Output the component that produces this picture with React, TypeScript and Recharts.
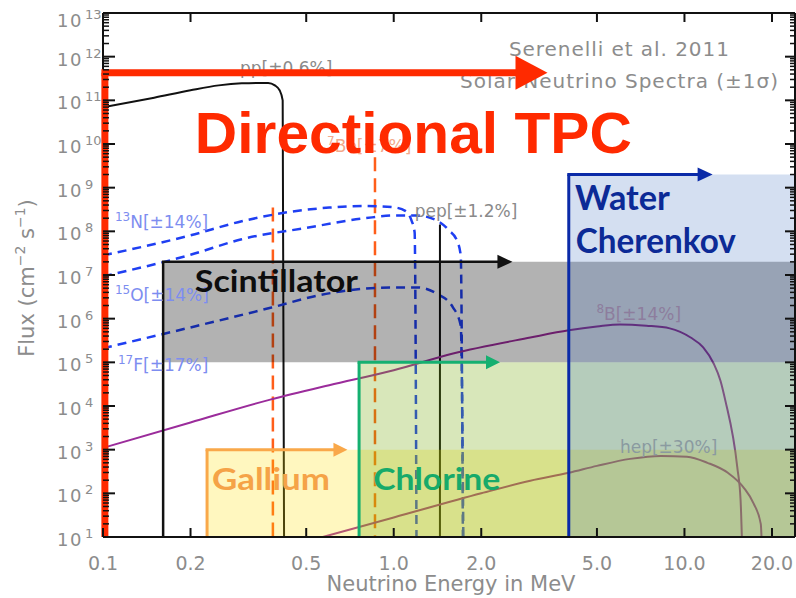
import React from "react";
import {
  LineChart,
  Line,
  XAxis,
  YAxis,
  ReferenceArea,
  ReferenceLine,
  ReferenceDot,
} from "recharts";

const CHART_W = 796;
const CHART_H = 598;

const energyDomain: [number, number] = [0.1, 24];
const fluxDomain: [number, number] = [10, 1e13];

const energyTicks = [0.1, 0.2, 0.5, 1, 2, 5, 10, 20];
const energyTickLabels = ["0.1", "0.2", "0.5", "1.0", "2.0", "5.0", "10.0", "20.0"];
const fluxExponents = [1, 2, 3, 4, 5, 6, 7, 8, 9, 10, 11, 12, 13];
const fluxMantissas = [1, 2, 3, 4, 5, 6, 7, 8, 9];
const fluxTicks = fluxExponents.flatMap((n) =>
  n === 13 ? [10 ** n] : fluxMantissas.map((m) => m * 10 ** n)
);

// spectra, flux in cm^-2 s^-1 (per MeV for continua)
const ppEnergy = [0.1, 0.15, 0.2, 0.25, 0.3, 0.35, 0.37, 0.39, 0.405, 0.415, 0.42];
const ppFlux = [6.9e10, 1.15e11, 1.7e11, 2.2e11, 2.45e11, 2.5e11, 2.5e11, 2.2e11, 1.7e11, 1.0e11, 1];

const n13Energy = [0.1, 0.2, 0.3, 0.476, 0.6, 0.8, 1.0, 1.1, 1.15, 1.18, 1.199];
const n13Flux = [2.8e7, 8.1e7, 1.7e8, 3.0e8, 3.5e8, 3.8e8, 3.55e8, 2.9e8, 1.8e8, 9.5e7, 1];

const o15Energy = [0.1, 0.2, 0.3, 0.5, 0.8, 1.0, 1.2, 1.4, 1.55, 1.65, 1.7, 1.732];
const o15Flux = [9.3e6, 2.9e7, 6.6e7, 1.2e8, 2.0e8, 2.3e8, 2.3e8, 1.8e8, 1.05e8, 6.2e7, 2.8e7, 1];

const f17Energy = [0.1, 0.2, 0.38, 0.55, 0.8, 1.0, 1.2, 1.4, 1.6, 1.7, 1.74];
const f17Flux = [2.1e5, 6.3e5, 1.8e6, 3.4e6, 4.9e6, 5.2e6, 5.2e6, 3.8e6, 1.8e6, 7e5, 1];

const b8Energy = [0.1, 0.2, 0.376, 0.6, 1.0, 1.6, 2.95, 4, 5, 6, 7.4, 8.9, 10.5, 11.6, 12.6, 13.3, 13.8, 15.2, 15.6, 15.9];
const b8Flux = [1.1e3, 4.2e3, 1.4e4, 3.0e4, 6.6e4, 1.6e5, 3.7e5, 5.4e5, 6.6e5, 7.4e5, 6.9e5, 6.0e5, 3.7e5, 2.2e5, 9.4e4, 3.8e4, 1.4e4, 390, 68, 1];

const hepEnergy = [0.57, 1, 2, 2.95, 4, 5, 6.5, 8.3, 10.2, 12, 14.1, 16, 17.3, 18.3, 18.6];
const hepFlux = [10, 28, 100, 195, 295, 425, 615, 720, 690, 500, 295, 134, 58, 20, 1];

// monoenergetic lines
const be7LowEnergy = [0.384, 0.384];
const be7LowFlux = [3.5e8, 1];
const be7HighEnergy = [0.862, 0.862];
const be7HighFlux = [5e9, 1];
const pepEnergy = [1.442, 1.442];
const pepFlux = [1.44e8, 1];

// detector thresholds (MeV) and flux band covered
const detectorNames = ["Gallium", "Chlorine", "Scintillator", "Water Cherenkov", "Directional TPC"];
const detectorThreshold = [0.228, 0.76, 0.161, 4.0, 0.1015];
const detectorCeiling = [1e3, 1e5, 2e7, 2e9, 4.3e11];
const detectorFloor = [10, 10, 1e5, 10, 10];
const detectorArrowEnd = [0.693, 2.32, 2.56, 12.5, 3.38];

type Pt = { e: number; f: number };
const toPoints = (energy: number[], flux: number[]): Pt[] =>
  energy.map((e, i) => ({ e, f: flux[i] }));

const BLUE = "#1f3ff2";
const ORANGE = "#ff5e1a";
const PURPLE = "#9b2c9b";
const INK = "#111111";

const spectra = [
  { key: "pp", data: toPoints(ppEnergy, ppFlux), color: INK, width: 2, dash: undefined, curve: "monotone" },
  { key: "be7a", data: toPoints(be7LowEnergy, be7LowFlux), color: ORANGE, width: 2.5, dash: "14 7", curve: "linear" },
  { key: "be7b", data: toPoints(be7HighEnergy, be7HighFlux), color: ORANGE, width: 2.5, dash: "14 7", curve: "linear" },
  { key: "n13", data: toPoints(n13Energy, n13Flux), color: BLUE, width: 2.5, dash: "9 6", curve: "monotone" },
  { key: "o15", data: toPoints(o15Energy, o15Flux), color: BLUE, width: 2.5, dash: "9 6", curve: "monotone" },
  { key: "f17", data: toPoints(f17Energy, f17Flux), color: BLUE, width: 2.5, dash: "9 6", curve: "monotone" },
  { key: "pep", data: toPoints(pepEnergy, pepFlux), color: INK, width: 2, dash: undefined, curve: "linear" },
  { key: "b8", data: toPoints(b8Energy, b8Flux), color: PURPLE, width: 2, dash: undefined, curve: "monotone" },
  { key: "hep", data: toPoints(hepEnergy, hepFlux), color: PURPLE, width: 2, dash: undefined, curve: "monotone" },
];

// detector box styles, same order as detectorNames
const boxFill = ["#ffe000", "#70a800", "#000000", "#3b6fc0", "none"];
const boxOpacity = [0.25, 0.27, 0.3, 0.22, 0];
const boxStroke = ["#f9a84a", "#15b070", INK, "#0a2aa8", "#ff2a00"];
const boxStrokeWidth = [3, 3, 2.5, 3, 7];
const boxHead = [[14, 7], [14, 7], [15, 7], [15, 7], [32, 17]];

// curve annotations: text, superscript prefix, anchor (MeV, flux)
const notes = [
  { text: "pp[±0.6%]", sup: "", e: 0.296, f: 4e11, color: "#8a8a8a" },
  { text: "Be[±7%]", sup: "7", e: 0.59, f: 6.5e9, color: "#f3a98c" },
  { text: "N[±14%]", sup: "13", e: 0.1099, f: 1.17e8, color: "#7d8df0" },
  { text: "O[±14%]", sup: "15", e: 0.1099, f: 2.6e6, color: "#7d8df0" },
  { text: "F[±17%]", sup: "17", e: 0.1126, f: 6.5e4, color: "#7d8df0" },
  { text: "pep[±1.2%]", sup: "", e: 1.18, f: 2.1e8, color: "#8a8a8a" },
  { text: "B[±14%]", sup: "8", e: 4.98, f: 9.1e5, color: "#8d7d9d" },
  { text: "hep[±30%]", sup: "", e: 6.0, f: 8.5e2, color: "#8a9aa0" },
];

const credits = [
  { text: "Serenelli et al. 2011", e: 2.49, f: 1.03e12, length: 220 },
  { text: "Solar Neutrino Spectra (±1σ)", e: 1.69, f: 1.9e11, length: 318 },
];

// detector captions
const captions = [
  { text: "Gallium", e: 0.237, f: 120, color: "#f5a347", size: 31, length: 118 },
  { text: "Chlorine", e: 0.85, f: 120, color: "#17aa6a", size: 31, length: 127 },
  { text: "Scintillator", e: 0.207, f: 4e6, color: "#0d0d0d", size: 30, length: 163 },
  { text: "Water", e: 4.2, f: 3e8, color: "#0c2a96", size: 34, length: 95 },
  { text: "Cherenkov", e: 4.23, f: 3.2e7, color: "#0c2a96", size: 34, length: 160 },
];

const GRAY = "#8c8c8c";
const SANS = "DejaVu Sans";

function arrowShape(color: string, width: number, head: number, half: number) {
  return (p: any) => {
    const { x1, y1, x2, y2 } = p;
    return (
      <g>
        <line x1={x1 - width / 2} y1={y1} x2={x2 - head + 1} y2={y2} stroke={color} strokeWidth={width} />
        <polygon
          points={`${x2},${y2} ${x2 - head},${y2 - half} ${x2 - head},${y2 + half}`}
          fill={color}
        />
      </g>
    );
  };
}

function noteShape(text: string, sup: string, color: string) {
  return (p: any) => (
    <text x={p.cx} y={p.cy} fill={color} fontSize={17} fontFamily={SANS}>
      {sup ? (
        <>
          <tspan fontSize={12} dy={-7}>{sup}</tspan>
          <tspan dy={7}>{text}</tspan>
        </>
      ) : (
        text
      )}
    </text>
  );
}

function creditShape(text: string, length: number) {
  return (p: any) => (
    <text x={p.cx} y={p.cy} fill={GRAY} fontSize={20} fontFamily={SANS} textLength={length} lengthAdjust="spacing">
      {text}
    </text>
  );
}

function captionShape(text: string, color: string, size: number, length: number, family: string) {
  return (p: any) => (
    <text
      x={p.cx}
      y={p.cy}
      fill={color}
      fontSize={size}
      fontWeight={700}
      fontFamily={family}
      textLength={length}
      lengthAdjust="spacingAndGlyphs"
    >
      {text}
    </text>
  );
}

function EnergyTick({ x, y, payload }: any) {
  const i = energyTicks.indexOf(payload.value);
  return (
    <g>
      <line x1={x} y1={y} x2={x} y2={y - 9} stroke={INK} strokeWidth={2} />
      <text x={x} y={y + 33} textAnchor="middle" fill={GRAY} fontSize={19} fontFamily={SANS}>
        {energyTickLabels[i]}
      </text>
    </g>
  );
}

function TopTick({ x, y }: any) {
  return <line x1={x} y1={y} x2={x} y2={y + 9} stroke={INK} strokeWidth={2} />;
}

const isDecade = (v: number) => Math.abs(Math.log10(v) - Math.round(Math.log10(v))) < 1e-6;

function FluxTick({ x, y, payload }: any) {
  const v = payload.value;
  const major = isDecade(v);
  const p = Math.round(Math.log10(v));
  const base = p === 13 ? y + 14 : y + 9;
  return (
    <g>
      <line x1={x} y1={y} x2={x + (major ? 12 : 6)} y2={y} stroke={INK} strokeWidth={major ? 2 : 1.5} />
      {major && (
        <>
          <text x={x - 20} y={base} textAnchor="end" fill={GRAY} fontSize={18} fontFamily={SANS} letterSpacing={1.5}>
            10
          </text>
          <text x={x - 18} y={base - 8} fill={GRAY} fontSize={13} fontFamily={SANS}>
            {p}
          </text>
        </>
      )}
    </g>
  );
}

function RightTick({ x, y, payload }: any) {
  const major = isDecade(payload.value);
  return <line x1={x} y1={y} x2={x - (major ? 10 : 5)} y2={y} stroke={INK} strokeWidth={major ? 2 : 1.5} />;
}

function FluxTitle() {
  return (
    <text
      transform="translate(34,278) rotate(-90)"
      textAnchor="middle"
      fill={GRAY}
      fontSize={21}
      fontFamily={SANS}
    >
      Flux (cm<tspan dy={-9} fontSize={14}>−2</tspan>
      <tspan dy={9}> s</tspan>
      <tspan dy={-9} fontSize={14}>−1</tspan>
      <tspan dy={9}>)</tspan>
    </text>
  );
}

function EnergyTitle() {
  return (
    <text x={451} y={591} textAnchor="middle" fill={GRAY} fontSize={21} fontFamily={SANS}>
      Neutrino Energy in MeV
    </text>
  );
}

export default function App() {
  const boxes = detectorNames.map((name, i) => ({
    name,
    thr: detectorThreshold[i],
    top: detectorCeiling[i],
    floor: detectorFloor[i],
    end: detectorArrowEnd[i],
    fill: boxFill[i],
    opacity: boxOpacity[i],
    stroke: boxStroke[i],
    width: boxStrokeWidth[i],
    head: boxHead[i],
  }));
  const tpc = boxes[boxes.length - 1];
  const framed = boxes.slice(0, boxes.length - 1);

  return (
    <div style={{ position: "absolute", left: 0, top: 0, background: "#fff" }}>
      <LineChart width={CHART_W} height={CHART_H} margin={{ top: 0, right: 0, bottom: 0, left: 0 }}>
        {spectra.map((s) => (
          <Line
            key={s.key}
            data={s.data}
            dataKey="f"
            type={s.curve as any}
            stroke={s.color}
            strokeWidth={s.width}
            strokeDasharray={s.dash}
            dot={false}
            activeDot={false}
            isAnimationActive={false}
            zIndex={400}
          />
        ))}

        {framed.map((b) => (
          <ReferenceArea
            key={`area-${b.name}`}
            x1={b.thr}
            x2={energyDomain[1]}
            y1={b.floor}
            y2={b.top}
            fill={b.fill}
            fillOpacity={b.opacity}
            stroke="none"
            zIndex={450}
          />
        ))}

        {framed.map((b) => (
          <ReferenceLine
            key={`edge-${b.name}`}
            segment={[
              { x: b.thr, y: fluxDomain[0] },
              { x: b.thr, y: b.top },
            ]}
            stroke={b.stroke}
            strokeWidth={b.width}
            zIndex={460}
          />
        ))}
        {framed.map((b) => (
          <ReferenceLine
            key={`arrow-${b.name}`}
            segment={[
              { x: b.thr, y: b.top },
              { x: b.end, y: b.top },
            ]}
            shape={arrowShape(b.stroke, b.width, b.head[0], b.head[1])}
            zIndex={460}
          />
        ))}

        {notes.map((n) => (
          <ReferenceDot
            key={`note-${n.text}-${n.sup}`}
            x={n.e}
            y={n.f}
            r={0}
            shape={noteShape(n.text, n.sup, n.color)}
            zIndex={470}
          />
        ))}
        {credits.map((c) => (
          <ReferenceDot key={c.text} x={c.e} y={c.f} r={0} shape={creditShape(c.text, c.length)} zIndex={470} />
        ))}
        {captions.map((c) => (
          <ReferenceDot
            key={c.text}
            x={c.e}
            y={c.f}
            r={0}
            shape={captionShape(c.text, c.color, c.size, c.length, "Lato")}
            zIndex={475}
          />
        ))}

        <XAxis
          dataKey="e"
          type="number"
          scale="log"
          domain={energyDomain}
          allowDataOverflow
          ticks={energyTicks}
          interval={0}
          height={61}
          tickSize={0}
          tickMargin={0}
          tickLine={false}
          axisLine={{ stroke: INK, strokeWidth: 2 }}
          tick={<EnergyTick />}
          label={<EnergyTitle />}
        />
        <XAxis
          xAxisId="top"
          orientation="top"
          dataKey="e"
          type="number"
          scale="log"
          domain={energyDomain}
          allowDataOverflow
          ticks={energyTicks}
          interval={0}
          height={13}
          tickSize={0}
          tickMargin={0}
          tickLine={false}
          axisLine={{ stroke: INK, strokeWidth: 2 }}
          tick={<TopTick />}
        />
        <YAxis
          type="number"
          scale="log"
          domain={fluxDomain}
          allowDataOverflow
          ticks={fluxTicks}
          interval={0}
          width={103}
          tickSize={0}
          tickMargin={0}
          tickLine={false}
          axisLine={{ stroke: INK, strokeWidth: 2 }}
          tick={<FluxTick />}
          label={<FluxTitle />}
        />
        <YAxis
          yAxisId="right"
          orientation="right"
          type="number"
          scale="log"
          domain={fluxDomain}
          allowDataOverflow
          ticks={fluxTicks}
          interval={0}
          width={1}
          tickSize={0}
          tickMargin={0}
          tickLine={false}
          axisLine={{ stroke: INK, strokeWidth: 2 }}
          tick={<RightTick />}
        />

        <ReferenceLine
          segment={[
            { x: tpc.thr, y: fluxDomain[0] },
            { x: tpc.thr, y: tpc.top },
          ]}
          stroke={tpc.stroke}
          strokeWidth={tpc.width}
          zIndex={550}
        />
        <ReferenceLine
          segment={[
            { x: tpc.thr, y: tpc.top },
            { x: tpc.end, y: tpc.top },
          ]}
          shape={arrowShape(tpc.stroke, tpc.width, tpc.head[0], tpc.head[1])}
          zIndex={550}
        />
        <ReferenceDot
          x={0.207}
          y={6.2e9}
          r={0}
          shape={captionShape(tpc.name, tpc.stroke, 58, 437, "Liberation Sans")}
          zIndex={560}
        />
      </LineChart>
    </div>
  );
}
